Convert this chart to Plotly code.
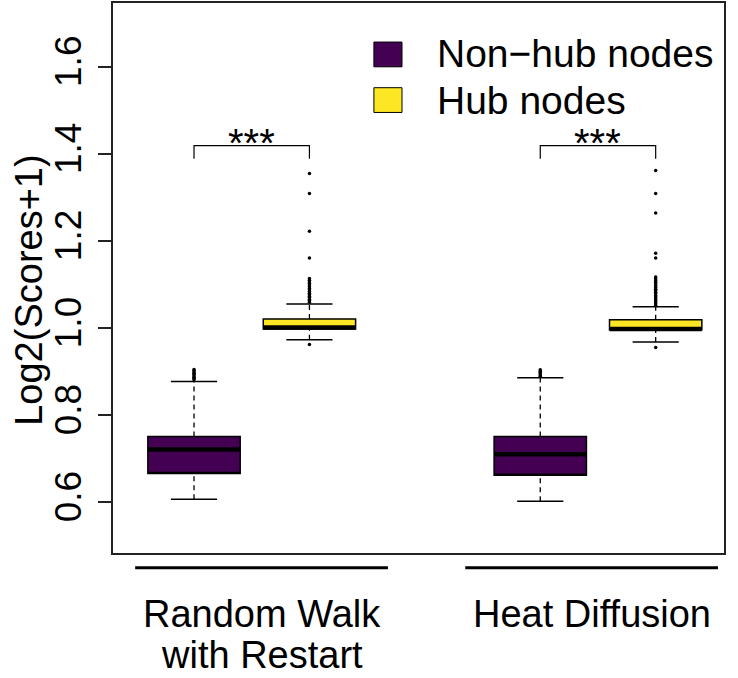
import plotly.graph_objects as go

# ---------------- data ----------------
categories = ["Random Walk\nwith Restart", "Heat Diffusion"]
series_names = ["Non\u2212hub nodes", "Hub nodes"]
series_colors = ["#440154", "#FDE725"]

# box positions (R-style at=c(1,2,4,5))
nonhub_pos = [1, 4]
hub_pos = [2, 5]

nonhub_q1 = [0.666, 0.662]
nonhub_med = [0.721, 0.710]
nonhub_q3 = [0.751, 0.751]
nonhub_lo = [0.607, 0.602]
nonhub_hi = [0.877, 0.886]

hub_q1 = [0.998, 0.996]
hub_med = [1.001, 0.998]
hub_q3 = [1.021, 1.019]
hub_lo = [0.973, 0.968]
hub_hi = [1.055, 1.049]

nonhub_out_rwr = [0.881, 0.884, 0.887, 0.890, 0.893, 0.896, 0.899, 0.902, 0.905]
nonhub_out_hd = [0.889, 0.892, 0.895, 0.898, 0.901, 0.904]
hub_out_rwr = [0.962, 1.059, 1.063, 1.066, 1.070, 1.073, 1.077, 1.080, 1.084,
               1.088, 1.091, 1.095, 1.099, 1.102, 1.106, 1.110, 1.114,
               1.161, 1.222, 1.309, 1.355]
hub_out_hd = [0.955, 1.052, 1.056, 1.060, 1.063, 1.067, 1.071, 1.074, 1.078,
              1.082, 1.086, 1.089, 1.093, 1.097, 1.101, 1.105, 1.109, 1.113,
              1.117, 1.161, 1.172, 1.264, 1.309, 1.362]

sig_pairs = [(1, 2), (4, 5)]
sig_level = 1.419
sig_arm = 1.389
sig_text = "***"

group_spans = [(0.49, 2.68), (3.35, 5.54)]

y_ticks = [0.6, 0.8, 1.0, 1.2, 1.4, 1.6]
y_range = [0.4833, 1.7465]
x_range = [0.298, 5.592]

FONT = "Liberation Sans, Arial, Helvetica, sans-serif"
BOXW = 0.8
HALF = BOXW / 2
STAPLE = BOXW / 4

fig = go.Figure()

def add_group(pos, q1, med, q3, lo, hi, color, name):
    fig.add_trace(go.Box(
        x=pos, q1=q1, median=q1, q3=q3, lowerfence=q1, upperfence=q3,
        width=BOXW, fillcolor=color, line=dict(color="black", width=1.5),
        whiskerwidth=0, boxpoints=False, name=name, showlegend=False,
        hoverinfo="skip"))
    # median (thick)
    mx, my = [], []
    for p, m in zip(pos, med):
        mx += [p - HALF, p + HALF, None]
        my += [m, m, None]
    fig.add_trace(go.Scatter(x=mx, y=my, mode="lines",
                             line=dict(color="black", width=4.5),
                             showlegend=False, hoverinfo="skip"))
    # dashed whiskers
    wx, wy = [], []
    for p, a, b, c, d in zip(pos, lo, q1, q3, hi):
        wx += [p, p, None, p, p, None]
        wy += [a, b, None, c, d, None]
    fig.add_trace(go.Scatter(x=wx, y=wy, mode="lines",
                             line=dict(color="black", width=1.3, dash="5px,4px"),
                             showlegend=False, hoverinfo="skip"))
    # staples
    sx, sy = [], []
    for p, a, d in zip(pos, lo, hi):
        sx += [p - STAPLE, p + STAPLE, None, p - STAPLE, p + STAPLE, None]
        sy += [a, a, None, d, d, None]
    fig.add_trace(go.Scatter(x=sx, y=sy, mode="lines",
                             line=dict(color="black", width=1.5),
                             showlegend=False, hoverinfo="skip"))

add_group(nonhub_pos, nonhub_q1, nonhub_med, nonhub_q3, nonhub_lo, nonhub_hi,
          series_colors[0], series_names[0])
add_group(hub_pos, hub_q1, hub_med, hub_q3, hub_lo, hub_hi,
          series_colors[1], series_names[1])

# outliers
out_sets = [(nonhub_pos[0], nonhub_out_rwr), (hub_pos[0], hub_out_rwr),
            (nonhub_pos[1], nonhub_out_hd), (hub_pos[1], hub_out_hd)]
ox, oy = [], []
for p, vals in out_sets:
    ox += [p] * len(vals)
    oy += vals
fig.add_trace(go.Scatter(x=ox, y=oy, mode="markers",
                         marker=dict(color="black", size=3.5, line=dict(width=0)),
                         showlegend=False, hoverinfo="skip"))

# significance brackets
bx, by = [], []
for a, b in sig_pairs:
    bx += [a, a, b, b, None]
    by += [sig_arm, sig_level, sig_level, sig_arm, None]
fig.add_trace(go.Scatter(x=bx, y=by, mode="lines",
                         line=dict(color="black", width=1.2),
                         showlegend=False, hoverinfo="skip"))
for a, b in sig_pairs:
    fig.add_annotation(x=(a + b) / 2, y=sig_level, xref="x", yref="y",
                       text=sig_text, showarrow=False, yanchor="middle",
                       yshift=3, font=dict(family=FONT, size=40, color="black"))

# group lines under axis
for a, b in group_spans:
    fig.add_shape(type="line", xref="x", yref="paper", x0=a, x1=b,
                  y0=-0.027, y1=-0.027, line=dict(color="black", width=3))

# category labels under the group lines (one annotation per text line)
for (a, b), cat in zip(group_spans, categories):
    for i, line in enumerate(cat.split("\n")):
        fig.add_annotation(x=(a + b) / 2, y=-0.111 - i * 0.074,
                           xref="x", yref="paper", text=line, showarrow=False,
                           xanchor="center", yanchor="middle",
                           font=dict(family=FONT, size=38, color="black"))

# legend (manual, R-style)
leg_y = [(0.884, 0.929), (0.801, 0.846)]
leg_text_y = [0.908, 0.822]
for (y0, y1), ty, col, name in zip(leg_y, leg_text_y, series_colors, series_names):
    fig.add_shape(type="rect", xref="paper", yref="paper", x0=0.427, x1=0.473,
                  y0=y0, y1=y1, fillcolor=col, line=dict(color="black", width=1))
    fig.add_annotation(x=0.527, y=ty, xref="paper", yref="paper", text=name,
                       showarrow=False, xanchor="left", yanchor="middle",
                       font=dict(family=FONT, size=39, color="black"))

# y-axis title
fig.add_annotation(x=-0.138, y=0.478, xref="paper", yref="paper",
                   text="Log2(Scores+1)", textangle=-90, showarrow=False,
                   xanchor="center", yanchor="middle",
                   font=dict(family=FONT, size=38, color="black"))

fig.update_layout(
    width=738, height=678,
    margin=dict(l=113, r=14, t=1, b=125),
    paper_bgcolor="white", plot_bgcolor="white",
    showlegend=False,
    xaxis=dict(range=x_range, showgrid=False, zeroline=False,
               showline=True, mirror=True, linecolor="#222", linewidth=1.5,
               showticklabels=False, ticks=""),
    yaxis=dict(range=y_range, showgrid=False, zeroline=False,
               showline=True, mirror=True, linecolor="#222", linewidth=1.5,
               tickvals=y_ticks, ticktext=[f"{v:.1f}" for v in y_ticks],
               ticks="outside", ticklen=13, tickwidth=1.5, tickcolor="#222",
               tickangle=-90, ticklabelstandoff=2,
               tickfont=dict(family=FONT, size=37, color="black")),
)

fig.write_html("out.html", config={"displayModeBar": False},
               post_script="document.body.style.margin='0';document.body.style.overflow='hidden';")
